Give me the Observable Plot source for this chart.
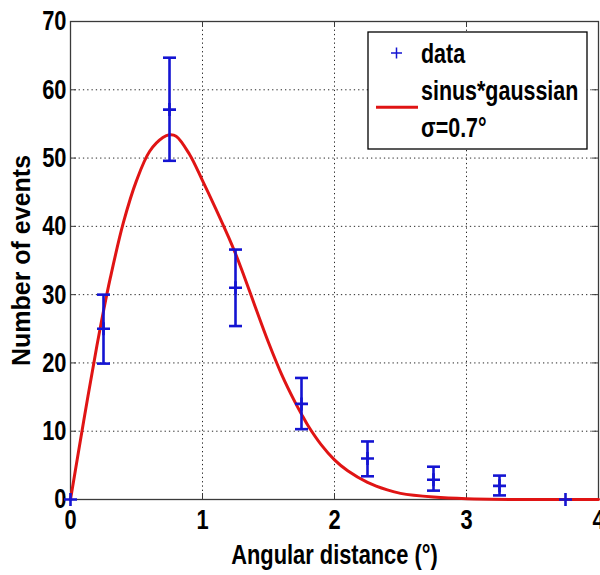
<!DOCTYPE html>
<html>
<head>
<meta charset="utf-8">
<script src="https://cdn.jsdelivr.net/npm/d3@7"></script>
<script src="https://cdn.jsdelivr.net/npm/@observablehq/plot@0.6"></script>
<style>
  html, body { margin: 0; padding: 0; background: #fff; }
  #chart { width: 600px; height: 575px; }
</style>
</head>
<body>
<div id="chart"></div>
<script>
// ---- data ----
const dataX      = [0, 0.25, 0.75, 1.25, 1.75, 2.25, 2.75, 3.25, 3.75];
const dataY      = [0, 25.0, 57.1, 31.0, 14.0, 6.0, 2.9, 2.0, 0];
const errLow     = [0, 19.9, 49.6, 25.4, 10.3, 3.4, 1.3, 0.6, 0];
const errHigh    = [0, 30.0, 64.7, 36.6, 17.8, 8.5, 4.8, 3.5, 0];
const hasErr     = [false, true, true, true, true, true, true, true, false];

const curveX = [0, 0.1, 0.2, 0.25, 0.3, 0.4, 0.5, 0.6, 0.7, 0.75, 0.8, 0.9, 1.0, 1.1, 1.2, 1.25, 1.3, 1.4, 1.5, 1.6, 1.7, 1.75, 1.8, 1.9, 2.0, 2.1, 2.25, 2.4, 2.5, 2.75, 3.0, 3.5, 4.0];
const curveY = [0, 11.5, 22.5, 27.6, 32.3, 40.5, 46.7, 51.0, 53.0, 53.4, 53.2, 50.6, 46.7, 42.6, 38.3, 36.0, 33.5, 28.2, 23.0, 18.3, 14.3, 12.5, 10.8, 8.0, 5.8, 4.2, 2.5, 1.4, 0.9, 0.35, 0.1, 0, 0];

const xTicks = [0, 1, 2, 3, 4];
const yTicks = [0, 10, 20, 30, 40, 50, 60, 70];
const xLabel = "Angular distance (°)";
const yLabel = "Number of events";
const legendLabels = ["data", "sinus*gaussian", "σ=0.7°"];

// ---- build ----
const points = dataX.map((x, i) => ({x, y: dataY[i], lo: errLow[i], hi: errHigh[i], err: hasErr[i]}));
const bars = points.filter(d => d.err);
const curve = curveX.map((x, i) => ({x, y: curveY[i]}));

const W = 600, H = 575;
const mL = 70, mR = 2, mT = 21, mB = 76;
const plotW = W - mL - mR, plotH = H - mT - mB;
const FONT = "'Liberation Sans',Arial,Helvetica,sans-serif";
const SQUEEZE = 0.78;
const BLUE = "#1414d2", RED = "#e01414", AXIS = "#3a3a3a";

const hLine = (half) => ({draw(ctx) { ctx.moveTo(-half, 0); ctx.lineTo(half, 0); }});
const plus = (half) => ({draw(ctx) { ctx.moveTo(-half, 0); ctx.lineTo(half, 0); ctx.moveTo(0, -half); ctx.lineTo(0, half); }});

const chart = Plot.plot({
  width: W, height: H,
  marginLeft: mL, marginRight: mR, marginTop: mT, marginBottom: mB,
  style: {fontFamily: FONT, fontWeight: "bold", color: "#000", background: "#fff"},
  x: {domain: [0, 4]},
  y: {domain: [0, 70]},
  marks: [
    Plot.gridX(xTicks, {stroke: "#000", strokeOpacity: 0.85, strokeDasharray: "1.3,3"}),
    Plot.gridY(yTicks, {stroke: "#000", strokeOpacity: 0.85, strokeDasharray: "1.3,3"}),
    // inward tick marks (MATLAB style)
    Plot.tickX(xTicks, {x: d => d, insetTop: plotH - 6, stroke: AXIS}),
    Plot.tickX(xTicks, {x: d => d, insetBottom: plotH - 6, stroke: AXIS}),
    Plot.tickY(yTicks, {y: d => d, insetRight: plotW - 6, stroke: AXIS}),
    Plot.tickY(yTicks, {y: d => d, insetLeft: plotW - 6, stroke: AXIS}),
    Plot.frame({stroke: AXIS, strokeWidth: 1.3}),
    Plot.axisX({ticks: xTicks, tickFormat: d3.format("d"), tickSize: 0, tickPadding: 10, fontSize: 28, fontFamily: FONT, fontWeight: "bold",
                label: xLabel, labelAnchor: "center", labelArrow: "none", labelOffset: 64}),
    Plot.axisY({ticks: yTicks, tickFormat: d3.format("d"), tickSize: 0, tickPadding: 4, fontSize: 28, fontFamily: FONT, fontWeight: "bold", label: null}),
    Plot.axisY({ticks: [], tickSize: 0, fontSize: 25, fontFamily: FONT, fontWeight: "bold",
                label: yLabel, labelAnchor: "center", labelArrow: "none", labelOffset: 58}),
    // fit curve
    Plot.line(curve, {x: "x", y: "y", stroke: RED, strokeWidth: 3, curve: "catmull-rom"}),
    // error bars
    Plot.ruleX(bars, {x: "x", y1: "lo", y2: "hi", stroke: BLUE, strokeWidth: 2.6}),
    Plot.dot(bars, {x: "x", y: "lo", symbol: hLine(6.5), stroke: BLUE, strokeWidth: 2.6, fill: "none"}),
    Plot.dot(bars, {x: "x", y: "hi", symbol: hLine(6.5), stroke: BLUE, strokeWidth: 2.6, fill: "none"}),
    Plot.dot(points, {x: "x", y: "y", symbol: plus(6.5), stroke: BLUE, strokeWidth: 2.6, fill: "none"})
  ]
});

document.getElementById("chart").appendChild(chart);

// ---- legend (inside the plot, top right) ----
const svg = d3.select(chart);
const lg = svg.append("g").attr("font-family", FONT).attr("font-weight", "bold")
  .attr("font-size", 27.5).attr("text-anchor", "start");
lg.append("rect").attr("x", 368).attr("y", 32).attr("width", 219).attr("height", 117)
  .attr("fill", "#fff").attr("stroke", "#000").attr("stroke-width", 1.3);
lg.append("path").attr("d", "M391,53H402M396.5,47.5V58.5").attr("stroke", BLUE).attr("stroke-width", 1.5);
lg.append("text").attr("x", 421).attr("y", 63).text(legendLabels[0]);
lg.append("path").attr("d", "M376,107.3H418").attr("stroke", RED).attr("stroke-width", 3);
lg.append("text").attr("x", 421).attr("y", 100).text(legendLabels[1]);
lg.append("text").attr("x", 421).attr("y", 137).text(legendLabels[2]);

// ---- condense horizontal text (reference uses a narrow face) ----
svg.selectAll("text").each(function() {
  if (this.textContent === yLabel) return;
  const len = this.getComputedTextLength();
  if (len > 0) {
    this.setAttribute("textLength", (len * SQUEEZE).toFixed(2));
    this.setAttribute("lengthAdjust", "spacingAndGlyphs");
  }
});
</script>
</body>
</html>
